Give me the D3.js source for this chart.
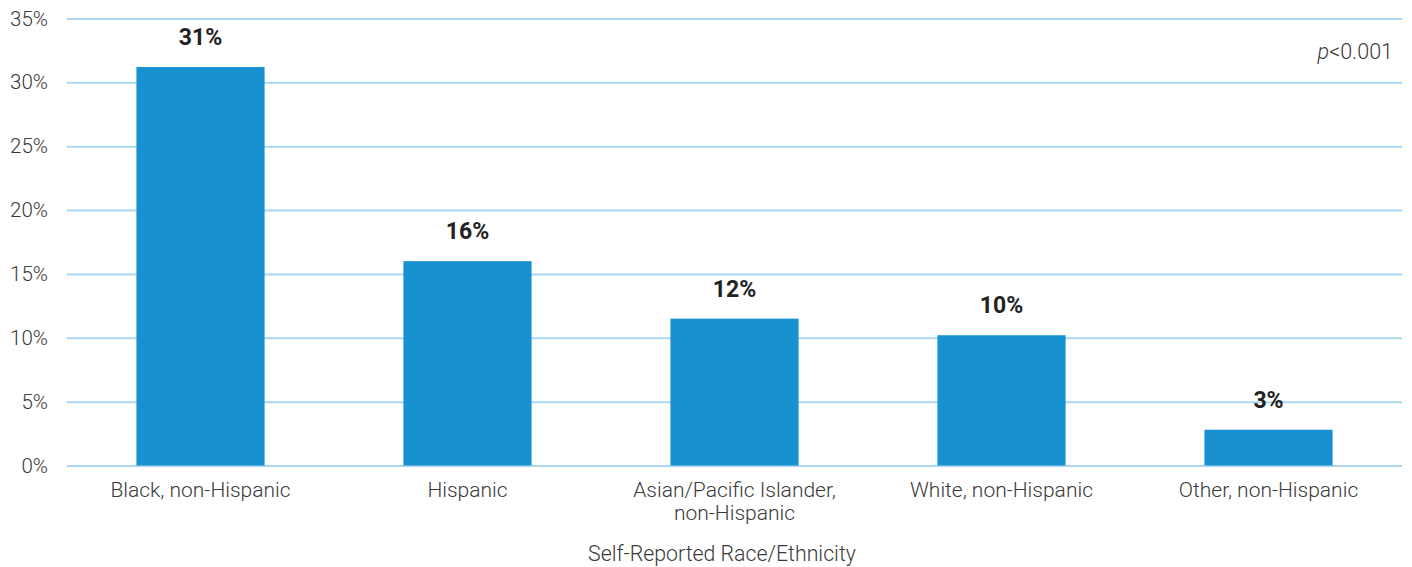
<!DOCTYPE html>
<html>
<head>
<meta charset="utf-8">
<script src="https://cdn.jsdelivr.net/npm/d3@7"></script>
<style>
  body { margin: 0; background: #fff; }
  svg { font-family: Roboto, "Noto Sans", sans-serif; }
</style>
</head>
<body>
<svg id="chart" width="1412" height="567"></svg>
<script>
const categories = [
  ["Black, non-Hispanic"],
  ["Hispanic"],
  ["Asian/Pacific Islander,", "non-Hispanic"],
  ["White, non-Hispanic"],
  ["Other, non-Hispanic"]
];
const values = [31.2, 16.0, 11.5, 10.2, 2.8];
const valueLabels = ["31%", "16%", "12%", "10%", "3%"];
const yTicks = [0, 5, 10, 15, 20, 25, 30, 35];

const width = 1412, height = 567;
const margin = {top: 18.5, right: 10, bottom: 101.5, left: 67};
const innerW = width - margin.left - margin.right;
const innerH = height - margin.top - margin.bottom;

const svg = d3.select("#chart");
const g = svg.append("g").attr("transform", `translate(${margin.left},${margin.top})`);

const x = d3.scaleBand()
    .domain(d3.range(categories.length))
    .range([0, innerW])
    .paddingInner(0.52)
    .paddingOuter(0.26);

const y = d3.scaleLinear().domain([0, 35]).range([innerH, 0]);

// gridlines + y labels
const yAxis = g.append("g")
    .call(d3.axisLeft(y).tickValues(yTicks).tickSize(-innerW).tickFormat(d => d + "%"))
    .attr("font-family", null);
yAxis.select(".domain").remove();
yAxis.selectAll(".tick line").attr("stroke", "#acd5f1").attr("stroke-width", 2);
yAxis.selectAll(".tick text")
    .attr("fill", "#3a3a3a")
    .attr("font-size", 20.5)
    .attr("font-weight", 300)
    .attr("x", -19);

// bars
g.selectAll("rect.bar")
  .data(values)
  .join("rect")
    .attr("class", "bar")
    .attr("x", (d, i) => x(i))
    .attr("width", x.bandwidth())
    .attr("y", d => y(d))
    .attr("height", d => innerH - y(d))
    .attr("fill", "#1891d1");

// value labels
g.selectAll("text.val")
  .data(values)
  .join("text")
    .attr("class", "val")
    .attr("x", (d, i) => x(i) + x.bandwidth() / 2)
    .attr("y", d => y(d) - 22)
    .attr("text-anchor", "middle")
    .attr("font-size", 23)
    .attr("font-weight", 700)
    .attr("fill", "#222")
    .text((d, i) => valueLabels[i]);

// category labels
const cat = g.selectAll("text.cat")
  .data(categories)
  .join("text")
    .attr("class", "cat")
    .attr("x", (d, i) => x(i) + x.bandwidth() / 2)
    .attr("y", innerH + 31)
    .attr("text-anchor", "middle")
    .attr("font-size", 21)
    .attr("font-weight", 300)
    .attr("fill", "#3a3a3a");
cat.selectAll("tspan")
  .data(d => d)
  .join("tspan")
    .attr("x", function() { return this.parentNode.getAttribute("x"); })
    .attr("dy", (d, i) => i === 0 ? 0 : 23)
    .text(d => d);

// axis title
svg.append("text")
    .attr("x", 722)
    .attr("y", 561)
    .attr("text-anchor", "middle")
    .attr("font-size", 21.3)
    .attr("font-weight", 300)
    .attr("fill", "#3a3a3a")
    .text("Self-Reported Race/Ethnicity");

// p-value note
const pText = svg.append("text")
    .attr("x", 1393)
    .attr("y", 59)
    .attr("text-anchor", "end")
    .attr("font-size", 21.5)
    .attr("font-weight", 300)
    .attr("fill", "#3a3a3a");
pText.append("tspan").attr("font-style", "italic").text("p");
pText.append("tspan").text("<0.001");
</script>
</body>
</html>
